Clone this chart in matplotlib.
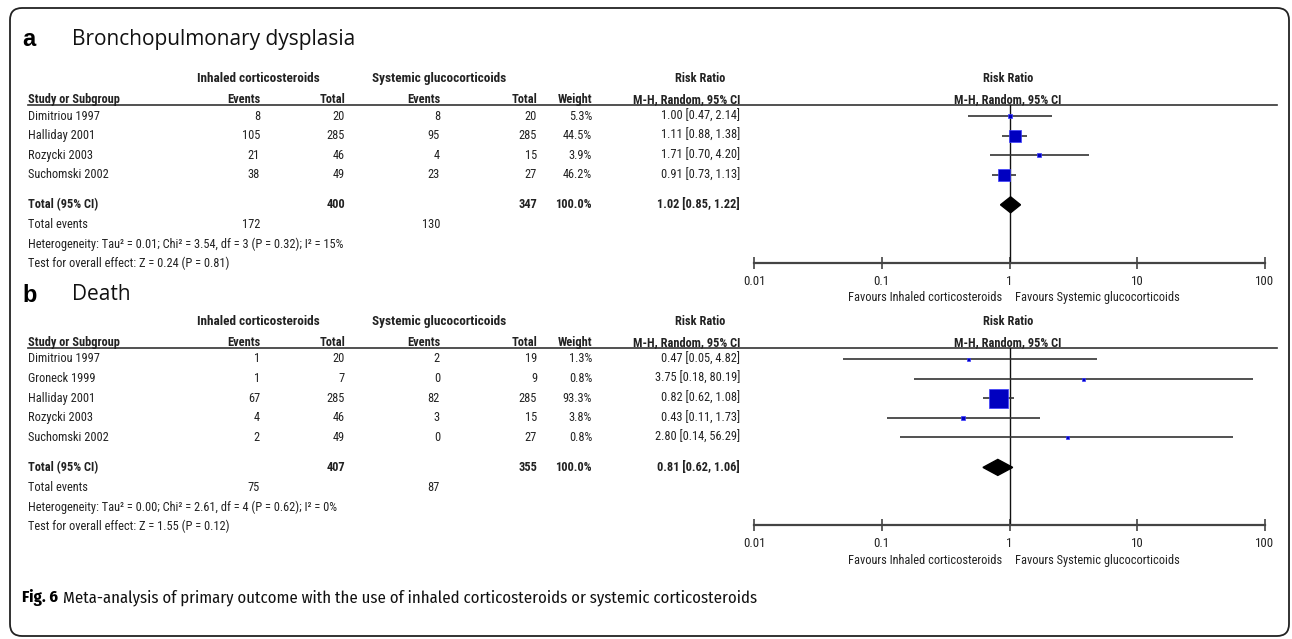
import matplotlib
matplotlib.use("Agg")
import matplotlib.pyplot as plt
from matplotlib import font_manager
from matplotlib.patches import FancyBboxPatch
import numpy as np

# 字体：表格用窄体（要有粗体），图注用压缩体
weights = {}
for f in font_manager.fontManager.ttflist:
    if f.style == "normal":
        weights.setdefault(f.name, set()).add(f.weight)


def pick(cands, need_bold=True):
    ok = []
    for name in cands:
        ws = weights.get(name, set())
        if 400 in ws and (not need_bold or any(w >= 700 for w in ws)):
            ok.append(name)
    return ok[:1] + ["Liberation Sans", "DejaVu Sans"]


narrow = ["Liberation Sans Narrow", "Arial Narrow", "Roboto Condensed", "PT Sans Narrow",
          "IBM Plex Sans Condensed", "Fira Sans Condensed", "Asap Condensed", "Encode Sans Condensed",
          "Archivo Narrow"]
table_font = pick(narrow)
title_font = ["Open Sans", "DejaVu Sans"]
cap_font = pick(["Fira Sans Condensed", "PT Sans Narrow", "Roboto Condensed", "IBM Plex Sans Condensed",
                 "Asap Condensed", "Encode Sans Condensed", "Archivo Narrow"])

# a 支气管肺发育不良
studies_a = ["Dimitriou 1997", "Halliday 2001", "Rozycki 2003", "Suchomski 2002"]
inh_events_a = [8, 105, 21, 38]
inh_total_a = [20, 285, 46, 49]
sys_events_a = [8, 95, 4, 23]
sys_total_a = [20, 285, 15, 27]
weight_a = [5.3, 44.5, 3.9, 46.2]
rr_a = [1.00, 1.11, 1.71, 0.91]
lo_a = [0.47, 0.88, 0.70, 0.73]
hi_a = [2.14, 1.38, 4.20, 1.13]
pooled_a = [1.02, 0.85, 1.22]
het_a = "Heterogeneity: Tau² = 0.01; Chi² = 3.54, df = 3 (P = 0.32); I² = 15%"
test_a = "Test for overall effect: Z = 0.24 (P = 0.81)"

# b 死亡
studies_b = ["Dimitriou 1997", "Groneck 1999", "Halliday 2001", "Rozycki 2003", "Suchomski 2002"]
inh_events_b = [1, 1, 67, 4, 2]
inh_total_b = [20, 7, 285, 46, 49]
sys_events_b = [2, 0, 82, 3, 0]
sys_total_b = [19, 9, 285, 15, 27]
weight_b = [1.3, 0.8, 93.3, 3.8, 0.8]
rr_b = [0.47, 3.75, 0.82, 0.43, 2.80]
lo_b = [0.05, 0.18, 0.62, 0.11, 0.14]
hi_b = [4.82, 80.19, 1.08, 1.73, 56.29]
pooled_b = [0.81, 0.62, 1.06]
het_b = "Heterogeneity: Tau² = 0.00; Chi² = 2.61, df = 4 (P = 0.62); I² = 0%"
test_b = "Test for overall effect: Z = 1.55 (P = 0.12)"

axis_ticks = [0.01, 0.1, 1, 10, 100]
axis_labels = ["0.01", "0.1", "1", "10", "100"]

W, H = 1292, 639
fig = plt.figure(figsize=(W / 100, H / 100), dpi=100)
bg = fig.add_axes([0, 0, 1, 1])
bg.set_xlim(0, W)
bg.set_ylim(H, 0)
bg.axis("off")

# 外框
bg.add_patch(FancyBboxPatch((10, 8), 1279, 628, boxstyle="round,pad=0,rounding_size=12",
                            fill=False, ec="#222222", lw=1.3))

fs = 8.9
tk = dict(fontsize=fs, family=table_font, color="#222222")
tkb = dict(tk, fontweight="bold")

# 列的右边界
x_name = 28
col_ie, col_it, col_se, col_st, col_w, col_ci = 260, 345, 440, 537, 592, 740
fx0, fx1 = 754, 1265
pitch = 19.6


def draw_panel(letter, title, title_y, top, studies, ie, it, se, st, w, rr, lo, hi, pooled,
               het, test, max_side):
    bg.text(22, title_y, letter, fontsize=17, fontweight="bold", family=["Liberation Sans", "DejaVu Sans"],
            va="center")
    bg.text(72, title_y, title, fontsize=15, family=title_font, va="center", color="#111111")

    h2 = top + 21
    bg.text((183 + 333) / 2, top, "Inhaled corticosteroids", ha="center", va="baseline",
            **dict(tkb, fontsize=fs + 0.6))
    bg.text((357 + 522) / 2, top, "Systemic glucocorticoids", ha="center", va="baseline",
            **dict(tkb, fontsize=fs + 0.6))
    bg.text(700, top, "Risk Ratio", ha="center", va="baseline", **tkb)
    bg.text(1008, top, "Risk Ratio", ha="center", va="baseline", **tkb)
    bg.text(x_name, h2, "Study or Subgroup", ha="left", va="baseline", **tkb)
    for x, s in [(col_ie, "Events"), (col_it, "Total"), (col_se, "Events"), (col_st, "Total"),
                 (col_w, "Weight"), (col_ci, "M-H, Random, 95% CI")]:
        bg.text(x, h2, s, ha="right", va="baseline", **tkb)
    bg.text(1008, h2, "M-H, Random, 95% CI", ha="center", va="baseline", **tkb)
    line_y = h2 + 2
    bg.plot([28, 1277], [line_y, line_y], color="#333333", lw=1.2)

    ys = [line_y + 11 + i * pitch for i in range(len(studies))]
    for y, name, a, b, c, d, wt, r, l, u in zip(ys, studies, ie, it, se, st, w, rr, lo, hi):
        bg.text(x_name, y, name, ha="left", va="center", **tk)
        bg.text(col_ie, y, str(a), ha="right", va="center", **tk)
        bg.text(col_it, y, str(b), ha="right", va="center", **tk)
        bg.text(col_se, y, str(c), ha="right", va="center", **tk)
        bg.text(col_st, y, str(d), ha="right", va="center", **tk)
        bg.text(col_w, y, f"{wt:.1f}%", ha="right", va="center", **tk)
        bg.text(col_ci, y, f"{r:.2f} [{l:.2f}, {u:.2f}]", ha="right", va="center", **tk)

    y_tot = ys[-1] + 30
    y_ev = y_tot + 20
    y_het = y_ev + 19.5
    y_test = y_het + 19.5
    bg.text(x_name, y_tot, "Total (95% CI)", ha="left", va="center", **tkb)
    bg.text(col_it, y_tot, str(sum(it)), ha="right", va="center", **tkb)
    bg.text(col_st, y_tot, str(sum(st)), ha="right", va="center", **tkb)
    bg.text(col_w, y_tot, "100.0%", ha="right", va="center", **tkb)
    bg.text(col_ci, y_tot, f"{pooled[0]:.2f} [{pooled[1]:.2f}, {pooled[2]:.2f}]", ha="right",
            va="center", **tkb)
    bg.text(x_name, y_ev, "Total events", ha="left", va="center", **tk)
    bg.text(col_ie, y_ev, str(sum(ie)), ha="right", va="center", **tk)
    bg.text(col_se, y_ev, str(sum(se)), ha="right", va="center", **tk)
    bg.text(x_name, y_het, het, ha="left", va="center", **tk)
    bg.text(x_name, y_test, test, ha="left", va="center", **tk)

    # 森林图
    axis_y = y_test - 1
    ax = fig.add_axes([fx0 / W, 1 - axis_y / H, (fx1 - fx0) / W, (axis_y - line_y) / H])
    ax.set_xscale("log")
    ax.set_xlim(0.01, 100)
    ax.set_ylim(axis_y, line_y)
    ax.patch.set_alpha(0)
    for sp in ["top", "left", "right"]:
        ax.spines[sp].set_visible(False)
    ax.spines["bottom"].set_linewidth(1.6)
    ax.spines["bottom"].set_color("#444444")
    ax.set_yticks([])
    ax.set_xticks(axis_ticks)
    ax.set_xticklabels(axis_labels)
    ax.minorticks_off()
    ax.tick_params(axis="x", direction="inout", length=9, width=1.2, color="#444444", pad=4,
                   labelsize=fs + 0.4)
    for lab in ax.get_xticklabels():
        lab.set_family(table_font)
        lab.set_color("#222222")
    ax.axvline(1, color="#111111", lw=1.0)

    wmax = max(w)
    for y, wt, r, l, u in zip(ys, w, rr, lo, hi):
        ax.plot([l, u], [y, y], color="#333333", lw=1.2, solid_capstyle="butt")
        side_px = max(max_side * np.sqrt(wt / wmax), 3)
        ax.scatter([r], [y], marker="s", s=(side_px * 0.72) ** 2, color="#0000c0",
                   edgecolors="#3c3cff", linewidths=0.5, zorder=3)
    est, l, u = pooled
    ax.fill([l, est, u, est], [y_tot, y_tot - 8, y_tot, y_tot + 8], color="black", zorder=3)

    ax.annotate("Favours Inhaled corticosteroids", xy=(1, 0), xycoords=("data", "axes fraction"),
                xytext=(-5, -25), textcoords="offset points", ha="right", va="center", **tk)
    ax.annotate("Favours Systemic glucocorticoids", xy=(1, 0), xycoords=("data", "axes fraction"),
                xytext=(4, -25), textcoords="offset points", ha="left", va="center", **tk)


draw_panel("a", "Bronchopulmonary dysplasia", 40, 82, studies_a, inh_events_a, inh_total_a,
           sys_events_a, sys_total_a, weight_a, rr_a, lo_a, hi_a, pooled_a, het_a, test_a, 12)
draw_panel("b", "Death", 295, 325, studies_b, inh_events_b, inh_total_b,
           sys_events_b, sys_total_b, weight_b, rr_b, lo_b, hi_b, pooled_b, het_b, test_b, 19)

# 图注
fig.canvas.draw()
cap = bg.text(22, 598, "Fig. 6", fontsize=12, fontweight="bold", family=cap_font, va="center")
r = fig.canvas.get_renderer()
bb = cap.get_window_extent(renderer=r)
bg.text(bb.x1 + 5, 598, "Meta-analysis of primary outcome with the use of inhaled corticosteroids or systemic corticosteroids",
        fontsize=12, family=cap_font, va="center", color="#111111")

fig.savefig("out.png", dpi=100)
